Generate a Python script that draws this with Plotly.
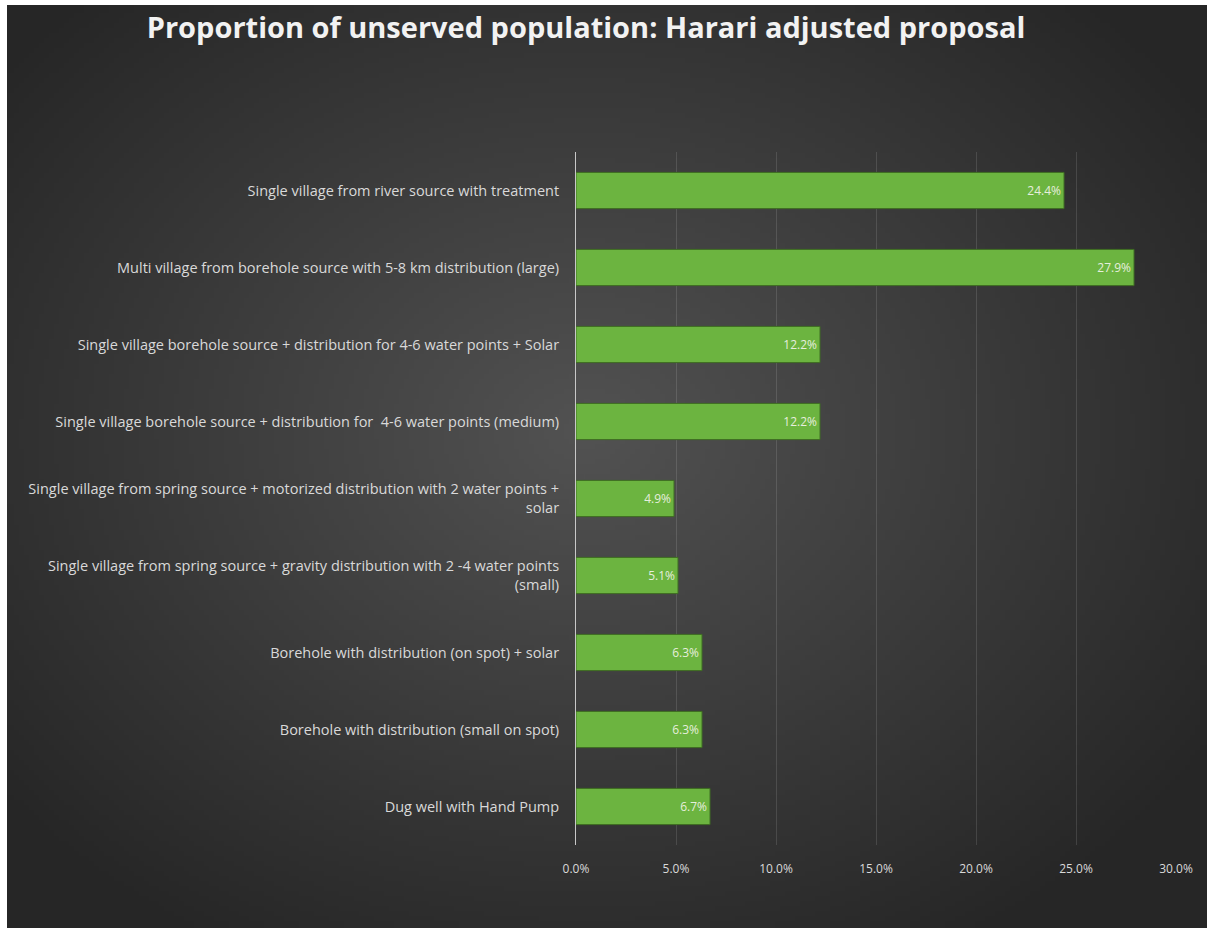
import base64
import struct
import zlib

import plotly.graph_objects as go

# ---- data -------------------------------------------------------------
categories = [
    "Single village from river source with treatment",
    "Multi village from borehole source with 5-8 km distribution (large)",
    "Single village borehole source + distribution for 4-6 water points + Solar",
    "Single village borehole source + distribution for  4-6 water points (medium)",
    "Single village from spring source + motorized distribution with 2 water points +<br>solar",
    "Single village from spring source + gravity distribution with 2 -4 water points<br>(small)",
    "Borehole with distribution (on spot) + solar",
    "Borehole with distribution (small on spot)",
    "Dug well with Hand Pump",
]
share_pct = [24.4, 27.9, 12.2, 12.2, 4.9, 5.1, 6.3, 6.3, 6.7]
tick_values = [0, 5, 10, 15, 20, 25, 30]
tick_labels = ["0.0%", "5.0%", "10.0%", "15.0%", "20.0%", "25.0%", "30.0%"]

TITLE = "Proportion of unserved population: Harari adjusted proposal"
FONT = "Open Sans, sans-serif"

# ---- canvas geometry --------------------------------------------------
W, H = 1207, 928
ML, MR, MT, MB = 576, 31, 152, 83
PW, PH = W - ML - MR, H - MT - MB


def radial_png(w, h):
    """Small dark radial gradient, stretched behind the whole chart."""
    rows = []
    cx, cy = w * 0.48, h * 0.46
    for j in range(h):
        row = bytearray([0])
        for i in range(w):
            dx = (i - cx) / (w * 0.62)
            dy = (j - cy) / (h * 0.64)
            d = min(1.0, (dx * dx + dy * dy) ** 0.5)
            v = int(round(82 - (82 - 38) * d))
            row += bytes([v, v, v])
        rows.append(bytes(row))
    raw = b"".join(rows)

    def chunk(tag, data):
        c = struct.pack(">I", len(data)) + tag + data
        return c + struct.pack(">I", zlib.crc32(tag + data) & 0xFFFFFFFF)

    png = b"\x89PNG\r\n\x1a\n"
    png += chunk(b"IHDR", struct.pack(">IIBBBBB", w, h, 8, 2, 0, 0, 0))
    png += chunk(b"IDAT", zlib.compress(raw, 9))
    png += chunk(b"IEND", b"")
    return "data:image/png;base64," + base64.b64encode(png).decode()


bg_left, bg_top = 7, 5
bg_uri = radial_png(240, 184)

fig = go.Figure()

fig.add_trace(
    go.Bar(
        x=share_pct,
        y=categories,
        orientation="h",
        marker=dict(color="#6cb440", line=dict(color="#3f6e22", width=1)),
        text=[f"{v:.1f}%" for v in share_pct],
        textposition="inside",
        insidetextanchor="end",
        textfont=dict(family=FONT, size=12, color="#e6eedd"),
        cliponaxis=False,
        hoverinfo="skip",
    )
)

fig.update_layout(
    width=W,
    height=H,
    margin=dict(l=ML, r=MR, t=MT, b=MB, pad=0, autoexpand=False),
    paper_bgcolor="white",
    plot_bgcolor="rgba(0,0,0,0)",
    showlegend=False,
    bargap=0.53,
    title=dict(
        text=TITLE,
        x=586 / W,
        xref="container",
        xanchor="center",
        y=1 - 28 / H,
        yref="container",
        yanchor="middle",
        font=dict(family=FONT, size=29, color="#f2f2f2", weight="bold"),
    ),
    images=[
        dict(
            source=bg_uri,
            xref="paper",
            yref="paper",
            x=(bg_left - ML) / PW,
            y=(H - MB - bg_top) / PH,
            sizex=(W - bg_left) / PW,
            sizey=(H - bg_top) / PH,
            xanchor="left",
            yanchor="top",
            sizing="stretch",
            layer="below",
        )
    ],
    xaxis=dict(
        range=[0, 30],
        tickvals=tick_values,
        ticktext=tick_labels,
        showgrid=True,
        gridcolor="rgba(255,255,255,0.12)",
        gridwidth=1,
        zeroline=False,
        showline=False,
        ticks="outside",
        ticklen=13,
        tickcolor="rgba(0,0,0,0)",
        tickfont=dict(family=FONT, size=12, color="#d9d9d9"),
        automargin=False,
        fixedrange=True,
    ),
    yaxis=dict(
        autorange="reversed",
        showgrid=False,
        zeroline=False,
        showline=True,
        linecolor="#c8c8c8",
        linewidth=1,
        ticks="outside",
        ticklen=13,
        tickcolor="rgba(0,0,0,0)",
        tickfont=dict(family=FONT, size=14.5, color="#d9d9d9"),
        automargin=False,
        fixedrange=True,
    ),
)

fig.write_html("out.html")
